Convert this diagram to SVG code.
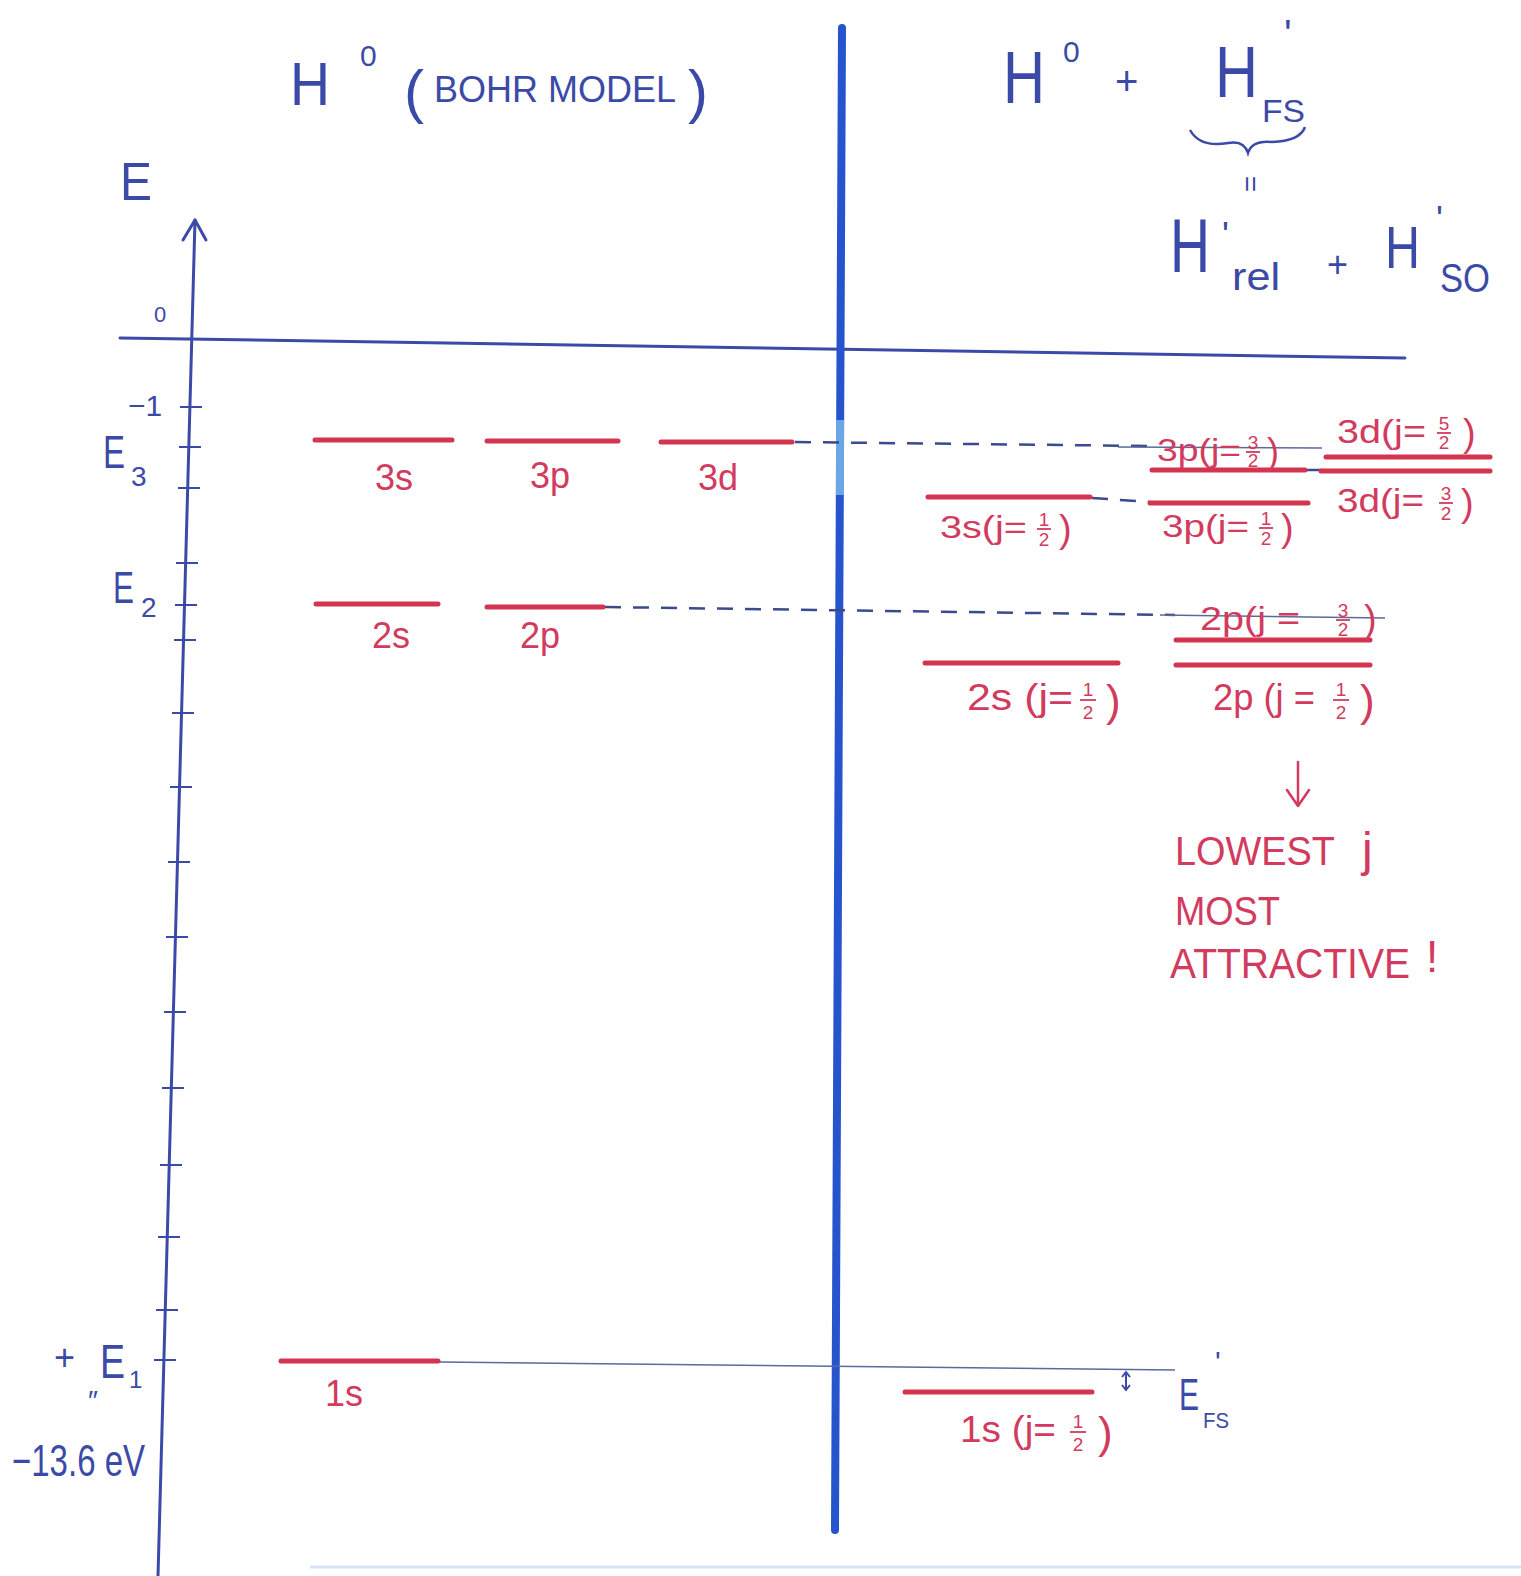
<svg xmlns="http://www.w3.org/2000/svg" width="1521" height="1576" viewBox="0 0 1521 1576">
<style>
text{font-family:"Liberation Sans",Arial,sans-serif}
.b{fill:#3b4aa6}
.r{fill:#d23a5e}
.lv{stroke:#d3344f;stroke-width:5;stroke-linecap:round;fill:none}
.ax{stroke:#3b4aa6;stroke-width:3;fill:none;stroke-linecap:round;stroke-linejoin:round}
.tk{stroke:#3b4aa6;stroke-width:2}
.dsh{stroke:#3a4a8c;stroke-width:2.5;stroke-dasharray:16 12;fill:none}
.thin{stroke:#5a6a9a;stroke-width:1.6;fill:none}
.fb{stroke:#d23a5e;stroke-width:1.8}
.fr{font-size:19px;text-anchor:middle}
.ar{stroke:#d23a5e;stroke-width:2.5;fill:none;stroke-linecap:round;stroke-linejoin:round}
</style>
<rect width="1521" height="1576" fill="#ffffff"/>
<line x1="310" y1="1567" x2="1521" y2="1567" stroke="#d6e4f6" stroke-width="3"/>

<g id="title-left" class="b">
<text x="290" y="105" font-size="62" textLength="40" lengthAdjust="spacingAndGlyphs">H</text>
<text x="360" y="66" font-size="30">0</text>
<text x="404" y="112" font-size="60">(</text>
<text x="434" y="102" font-size="36">BOHR MODEL</text>
<text x="688" y="112" font-size="60">)</text>
</g>

<g id="title-right" class="b">
<text x="1003" y="103" font-size="74" textLength="42" lengthAdjust="spacingAndGlyphs">H</text>
<text x="1063" y="62" font-size="30">0</text>
<text x="1115" y="95" font-size="40">+</text>
<text x="1215" y="97" font-size="72" textLength="43" lengthAdjust="spacingAndGlyphs">H</text>
<text x="1284" y="48" font-size="40">'</text>
<text x="1262" y="122" font-size="32" textLength="43" lengthAdjust="spacingAndGlyphs">FS</text>
<path d="M1190,130 Q1200,148 1228,143 Q1244,140 1248,153 Q1252,140 1272,142 Q1300,141 1305,127" stroke="#3b4aa6" stroke-width="2.5" fill="none"/>
<text x="1251" y="184" font-size="28" text-anchor="middle" transform="rotate(90 1251 184)" dy="10">=</text>
<text x="1170" y="272" font-size="76" textLength="40" lengthAdjust="spacingAndGlyphs">H</text>
<text x="1222" y="248" font-size="36">'</text>
<text x="1232" y="290" font-size="38" textLength="48" lengthAdjust="spacingAndGlyphs">rel</text>
<text x="1327" y="277" font-size="36">+</text>
<text x="1385" y="268" font-size="60" textLength="35" lengthAdjust="spacingAndGlyphs">H</text>
<text x="1436" y="232" font-size="36">'</text>
<text x="1440" y="292" font-size="40" textLength="50" lengthAdjust="spacingAndGlyphs">SO</text>
</g>

<g id="axis">
<path class="ax" d="M195,220 L158,1576"/>
<polyline class="ax" points="183,240 195,220 206,240"/>
<path class="ax" d="M120,338 L1405,358" stroke-width="2"/>
<g class="tk">
<line x1="180" y1="407" x2="202" y2="407"/>
<line x1="179" y1="447" x2="201" y2="447"/>
<line x1="178" y1="488" x2="200" y2="488"/>
<line x1="176" y1="563" x2="198" y2="563"/>
<line x1="175" y1="605" x2="197" y2="605"/>
<line x1="174" y1="640" x2="196" y2="640"/>
<line x1="172" y1="713" x2="194" y2="713"/>
<line x1="170" y1="787" x2="192" y2="787"/>
<line x1="168" y1="862" x2="190" y2="862"/>
<line x1="166" y1="937" x2="188" y2="937"/>
<line x1="164" y1="1012" x2="186" y2="1012"/>
<line x1="162" y1="1088" x2="184" y2="1088"/>
<line x1="160" y1="1165" x2="182" y2="1165"/>
<line x1="158" y1="1237" x2="180" y2="1237"/>
<line x1="156" y1="1310" x2="178" y2="1310"/>
<line x1="154" y1="1360" x2="176" y2="1360"/>
</g>
<g class="b">
<text x="120" y="200" font-size="54" textLength="32" lengthAdjust="spacingAndGlyphs">E</text>
<text x="154" y="322" font-size="22">0</text>
<text x="128" y="416" font-size="30">−1</text>
<text x="103" y="468" font-size="46" textLength="22" lengthAdjust="spacingAndGlyphs">E</text>
<text x="131" y="486" font-size="28">3</text>
<text x="113" y="603" font-size="44" textLength="21" lengthAdjust="spacingAndGlyphs">E</text>
<text x="141" y="617" font-size="28">2</text>
<text x="54" y="1370" font-size="36">+</text>
<text x="100" y="1378" font-size="48" textLength="25" lengthAdjust="spacingAndGlyphs">E</text>
<text x="129" y="1388" font-size="24">1</text>
<text x="88" y="1410" font-size="28" font-family="DejaVu Sans, sans-serif">″</text>
<text x="12" y="1476" font-size="44" textLength="133" lengthAdjust="spacingAndGlyphs">−13.6 eV</text>
</g>
</g>

<g id="divider">
<line x1="842" y1="28" x2="835" y2="1530" stroke="#2554cc" stroke-width="8" stroke-linecap="round"/>
<line x1="840" y1="420" x2="840" y2="495" stroke="#6aa7e6" stroke-width="8"/>
</g>

<g id="connectors">
<path class="dsh" d="M795,442 L1150,446"/>
<path class="thin" d="M1118,447 L1322,448"/>
<path class="dsh" d="M1306,470 L1322,470" stroke-dasharray="6 5"/>
<path class="dsh" d="M1092,498 L1150,502" stroke-dasharray="10 8"/>
<path class="dsh" d="M605,607 L1175,615"/>
<path class="thin" d="M1160,615 L1385,618"/>
<path class="thin" d="M440,1362 L1175,1370" stroke="#8a93b8"/>
</g>

<g id="level-3s"><line class="lv" x1="315" y1="440" x2="452" y2="440"/><text class="r" x="375" y="490" font-size="36">3s</text></g>
<g id="level-3p"><line class="lv" x1="487" y1="441" x2="618" y2="441"/><text class="r" x="530" y="488" font-size="36">3p</text></g>
<g id="level-3d"><line class="lv" x1="661" y1="442" x2="792" y2="442"/><text class="r" x="698" y="490" font-size="36">3d</text></g>
<g id="level-2s"><line class="lv" x1="316" y1="604" x2="438" y2="604"/><text class="r" x="372" y="648" font-size="36">2s</text></g>
<g id="level-2p"><line class="lv" x1="487" y1="607" x2="603" y2="607"/><text class="r" x="520" y="648" font-size="36">2p</text></g>
<g id="level-1s"><line class="lv" x1="281" y1="1361" x2="438" y2="1361"/><text class="r" x="325" y="1406" font-size="36">1s</text></g>

<g id="level-3p32">
<line class="lv" x1="1152" y1="470" x2="1305" y2="470"/>
<text class="r" x="1157" y="461" font-size="32" textLength="84" lengthAdjust="spacingAndGlyphs">3p(j=</text>
<text class="r fr" x="1253" y="449">3</text><line class="fb" x1="1246" y1="452" x2="1260" y2="452"/><text class="r fr" x="1253" y="467">2</text>
<text class="r" x="1267" y="464" font-size="36">)</text>
</g>
<g id="level-3d52">
<line class="lv" x1="1326" y1="457" x2="1490" y2="457"/>
<text class="r" x="1337" y="443" font-size="34" textLength="89" lengthAdjust="spacingAndGlyphs">3d(j=</text>
<text class="r fr" x="1444" y="430">5</text><line class="fb" x1="1437" y1="433" x2="1451" y2="433"/><text class="r fr" x="1444" y="449">2</text>
<text class="r" x="1463" y="446" font-size="38">)</text>
</g>
<g id="level-3d32">
<line class="lv" x1="1321" y1="471" x2="1490" y2="471"/>
<text class="r" x="1337" y="512" font-size="34" textLength="87" lengthAdjust="spacingAndGlyphs">3d(j=</text>
<text class="r fr" x="1446" y="500">3</text><line class="fb" x1="1439" y1="503" x2="1453" y2="503"/><text class="r fr" x="1446" y="520">2</text>
<text class="r" x="1461" y="516" font-size="38">)</text>
</g>
<g id="level-3s12">
<line class="lv" x1="928" y1="497" x2="1090" y2="497"/>
<text class="r" x="940" y="538" font-size="32" textLength="87" lengthAdjust="spacingAndGlyphs">3s(j=</text>
<text class="r fr" x="1044" y="526">1</text><line class="fb" x1="1037" y1="529" x2="1051" y2="529"/><text class="r fr" x="1044" y="546">2</text>
<text class="r" x="1059" y="542" font-size="38">)</text>
</g>
<g id="level-3p12">
<line class="lv" x1="1150" y1="503" x2="1308" y2="503"/>
<text class="r" x="1162" y="537" font-size="32" textLength="87" lengthAdjust="spacingAndGlyphs">3p(j=</text>
<text class="r fr" x="1266" y="525">1</text><line class="fb" x1="1259" y1="528" x2="1273" y2="528"/><text class="r fr" x="1266" y="545">2</text>
<text class="r" x="1281" y="541" font-size="38">)</text>
</g>
<g id="level-2p32">
<line class="lv" x1="1176" y1="640" x2="1370" y2="640"/>
<text class="r" x="1200" y="630" font-size="34" textLength="100" lengthAdjust="spacingAndGlyphs">2p(j =</text>
<text class="r fr" x="1343" y="617">3</text><line class="fb" x1="1336" y1="620" x2="1350" y2="620"/><text class="r fr" x="1343" y="636">2</text>
<text class="r" x="1364" y="632" font-size="38">)</text>
</g>
<g id="level-2s12">
<line class="lv" x1="925" y1="663" x2="1118" y2="663"/>
<text class="r" x="967" y="710" font-size="36" textLength="106" lengthAdjust="spacingAndGlyphs">2s (j=</text>
<text class="r fr" x="1088" y="696" font-size="22">1</text><line class="fb" x1="1080" y1="700" x2="1096" y2="700"/><text class="r fr" x="1088" y="719" font-size="22">2</text>
<text class="r" x="1106" y="716" font-size="44">)</text>
</g>
<g id="level-2p12">
<line class="lv" x1="1176" y1="665" x2="1370" y2="665"/>
<text class="r" x="1213" y="710" font-size="36" textLength="102" lengthAdjust="spacingAndGlyphs">2p (j =</text>
<text class="r fr" x="1341" y="696" font-size="22">1</text><line class="fb" x1="1333" y1="700" x2="1349" y2="700"/><text class="r fr" x="1341" y="719" font-size="22">2</text>
<text class="r" x="1360" y="716" font-size="44">)</text>
</g>
<g id="level-1s12">
<line class="lv" x1="905" y1="1392" x2="1092" y2="1392"/>
<text class="r" x="960" y="1442" font-size="36" textLength="96" lengthAdjust="spacingAndGlyphs">1s (j=</text>
<text class="r fr" x="1078" y="1428" font-size="22">1</text><line class="fb" x1="1070" y1="1432" x2="1086" y2="1432"/><text class="r fr" x="1078" y="1451" font-size="22">2</text>
<text class="r" x="1098" y="1448" font-size="44">)</text>
</g>

<g id="efs">
<line x1="1126" y1="1373" x2="1126" y2="1389" stroke="#3b4aa6" stroke-width="2"/>
<polyline points="1122,1377 1126,1372 1130,1377" stroke="#3b4aa6" stroke-width="2" fill="none"/>
<polyline points="1122,1385 1126,1390 1130,1385" stroke="#3b4aa6" stroke-width="2" fill="none"/>
<text class="b" x="1179" y="1410" font-size="44" textLength="20" lengthAdjust="spacingAndGlyphs">E</text>
<text class="b" x="1203" y="1428" font-size="22" textLength="26" lengthAdjust="spacingAndGlyphs">FS</text>
<text class="b" x="1215" y="1372" font-size="30">'</text>
</g>

<g id="note">
<line class="ar" x1="1298" y1="762" x2="1298" y2="805"/>
<polyline class="ar" points="1287,790 1298,806 1309,790"/>
<text class="r" x="1175" y="865" font-size="40" textLength="160" lengthAdjust="spacingAndGlyphs">LOWEST</text>
<text class="r" x="1362" y="866" font-size="48">j</text>
<text class="r" x="1175" y="925" font-size="40" textLength="105" lengthAdjust="spacingAndGlyphs">MOST</text>
<text class="r" x="1170" y="978" font-size="42" textLength="240" lengthAdjust="spacingAndGlyphs">ATTRACTIVE</text>
<text class="r" x="1426" y="972" font-size="44">!</text>
</g>
</svg>
